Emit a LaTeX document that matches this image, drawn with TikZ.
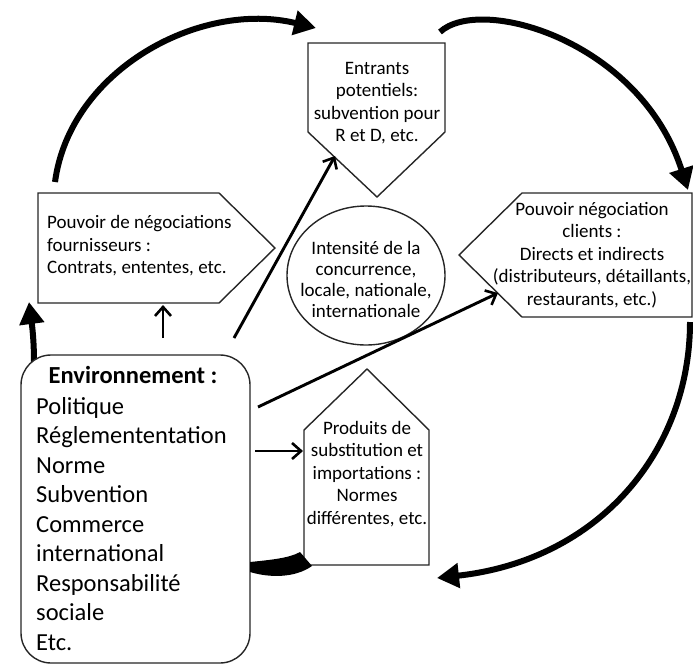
\documentclass[tikz,border=0pt]{standalone}
\usepackage{fontspec}
\setmainfont{Carlito}
\usetikzlibrary{arrows.meta,shapes.geometric}
\begin{document}
\begin{tikzpicture}[x=1pt,y=-1pt,
  boxshape/.style={draw=black!85, line width=1.4pt, fill=white, line join=miter},
  smalltxt/.style={font=\fontsize{19}{22.5}\selectfont, align=center, inner sep=0pt, text=black},
  bigtxt/.style={font=\fontsize{24.5}{29.5}\selectfont, inner sep=0pt, text=black},
  thinarrow/.style={line width=2.9pt, -{Straight Barb[length=9pt,width=16pt,line width=2.6pt]}},
  thickarrow/.style={line width=6pt, -{Triangle[length=22pt,width=24pt]}}]
\useasboundingbox (0,0) rectangle (693,664);

% --- coordinates of shapes
\coordinate (en1) at (308,43);  \coordinate (en2) at (445,43);
\coordinate (en3) at (445,132); \coordinate (en4) at (377,197);
\coordinate (en5) at (308,132);
\coordinate (fo1) at (38,193);  \coordinate (fo2) at (219,193);
\coordinate (fo3) at (275,248); \coordinate (fo4) at (219,303);
\coordinate (fo5) at (38,303);
\coordinate (cl1) at (522,193); \coordinate (cl2) at (692,193);
\coordinate (cl3) at (692,317); \coordinate (cl4) at (522,317);
\coordinate (cl5) at (459,255);
\coordinate (pr1) at (367,369); \coordinate (pr2) at (429,430);
\coordinate (pr3) at (429,565); \coordinate (pr4) at (304,565);
\coordinate (pr5) at (304,430);

% --- thick curved arrows (cycle)
\coordinate (aS) at (55,182);  \coordinate (aE) at (316,28);
\coordinate (bS) at (440,32);  \coordinate (bE) at (688,190);
\coordinate (cS) at (690,322); \coordinate (cE) at (437,578);
\coordinate (eS) at (34,362);  \coordinate (eE) at (29,302);
\draw[thickarrow] (aS) .. controls (70,70) and (200,0) .. (aE);
\draw[thickarrow] (bS) .. controls (480,-5) and (640,40) .. (bE);
\draw[thickarrow] (cS) .. controls (690,450) and (600,560) .. (cE);
\draw[thickarrow] (eS) .. controls (34,340) and (32,325) .. (eE);

% --- shapes
\draw[boxshape] (en1) -- (en2) -- (en3) -- (en4) -- (en5) -- cycle;
\draw[boxshape] (fo1) -- (fo2) -- (fo3) -- (fo4) -- (fo5) -- cycle;
\draw[boxshape] (cl1) -- (cl2) -- (cl3) -- (cl4) -- (cl5) -- cycle;
\draw[boxshape] (pr1) -- (pr2) -- (pr3) -- (pr4) -- (pr5) -- cycle;
\node[ellipse, draw=black!85, line width=1.4pt, minimum width=158pt, minimum height=139pt, inner sep=0pt] (circ) at (366,275.5) {};
\draw[boxshape, rounded corners=30pt] (21,355) rectangle (250,663);
\coordinate (env) at (135,509);

% --- texts
\node[smalltxt] (entr) at (377,103) {Entrants\\potentiels:\\subvention pour\\R et D, etc.};
\node[smalltxt, align=left, anchor=west] (four) at (47,246) {Pouvoir de négociations\\fournisseurs :\\Contrats, ententes, etc.};
\node[smalltxt] (clie) at (592,255) {Pouvoir négociation\\clients :\\Directs et indirects\\(distributeurs, détaillants,\\restaurants, etc.)};
\node[smalltxt, font=\fontsize{19}{21}\selectfont] (conc) at (366,279) {Intensité de la\\concurrence,\\locale, nationale,\\internationale};
\node[smalltxt] (prod) at (367,474) {Produits de\\substitution et\\importations :\\Normes\\différentes, etc.};
\node[bigtxt, font=\fontsize{24.5}{29.5}\selectfont\bfseries] (envh) at (133,375) {Environnement :};
\node[bigtxt, align=left, anchor=west] (envl) at (36,524) {Politique\\Réglemententation\\Norme\\Subvention\\Commerce\\international\\Responsabilité\\sociale\\Etc.};

% --- straight arrows from environment
\coordinate (fS) at (163,338); \coordinate (fE) at (163,305);
\coordinate (gS) at (234,338); \coordinate (gE) at (335,156);
\coordinate (hS) at (258,407); \coordinate (hE) at (498,293);
\coordinate (iS) at (255,451); \coordinate (iE) at (303,451);
\draw[thinarrow] (fS) -- (fE);
\draw[thinarrow] (gS) -- (gE);
\draw[thinarrow] (hS) -- (hE);
\draw[thinarrow] (iS) -- (iE);

% --- bottom crescent arrow end
\fill[black] (250,562) .. controls (270,560) and (290,558) .. (300,552)
  -- (312,566) .. controls (295,578) and (270,578) .. (250,572) -- cycle;
\end{tikzpicture}
\end{document}
